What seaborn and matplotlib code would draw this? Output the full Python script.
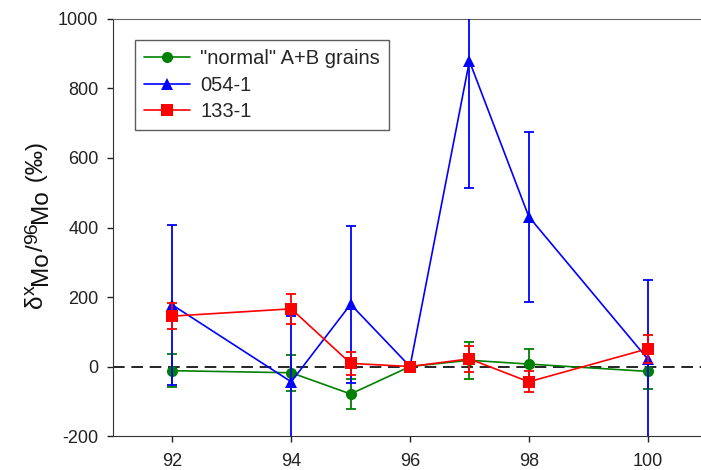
import matplotlib
matplotlib.use("Agg")
import matplotlib.pyplot as plt
import seaborn as sns
import pandas as pd

# mass numbers
mass = [92, 94, 95, 96, 97, 98, 100]

# "normal" A+B grains
normal_val = [-12, -18, -79, 0, 18, 7, -14]
normal_err = [47, 52, 43, 0, 53, 44, 51]

# grain 054-1
g054_val = [177, -44, 179, 0, 879, 431, 22]
g054_err = [229, 190, 225, 0, 365, 244, 227]

# grain 133-1
g133_val = [145, 166, 9, 0, 22, -44, 51]
g133_err = [38, 43, 34, 0, 38, 30, 40]

labels = ['"normal" A+B grains', "054-1", "133-1"]

sns.set_style("ticks")
plt.rcParams["font.family"] = ["Liberation Sans", "DejaVu Sans"]
plt.rcParams["axes.unicode_minus"] = False

df = pd.concat([
    pd.DataFrame({"mass": mass, "val": normal_val, "err": normal_err, "grain": labels[0]}),
    pd.DataFrame({"mass": mass, "val": g054_val, "err": g054_err, "grain": labels[1]}),
    pd.DataFrame({"mass": mass, "val": g133_val, "err": g133_err, "grain": labels[2]}),
])

colors = {labels[0]: "#008000", labels[1]: "#0000ff", labels[2]: "#ff0000"}
markers = {labels[0]: "o", labels[1]: "^", labels[2]: "s"}

W, H = 701, 470
fig = plt.figure(figsize=(W / 100, H / 100), dpi=100)
ax = fig.add_axes([0.1612, 0.0723, 0.8474, 0.8873])

ax.axhline(0, color="black", lw=1.2, dashes=(7, 4), zorder=1)

for i, g in enumerate(labels):
    sub = df[df["grain"] == g]
    ax.errorbar(sub["mass"], sub["val"], yerr=sub["err"], fmt="none",
                ecolor=colors[g], elinewidth=1.3, capsize=3.5, capthick=1.3,
                zorder=2 + 2 * i)
    sns.lineplot(data=sub, x="mass", y="val", color=colors[g], marker=markers[g],
                 markersize=8, markeredgewidth=0, lw=1.2, label=g, ax=ax,
                 zorder=3 + 2 * i)

ax.set_xlim(91, 101)
ax.set_ylim(-200, 1000)
ax.set_xticks([92, 94, 96, 98, 100])
ax.set_yticks(range(-200, 1001, 200))
ax.tick_params(labelsize=13, length=4.5, width=1, colors="#222222")
ax.tick_params(axis="x", pad=8)
ax.tick_params(axis="y", pad=6)
ax.set_xlabel("")
ax.set_ylabel("")

for s in ["left", "bottom"]:
    ax.spines[s].set_color("#333333")
ax.spines["top"].set_color("#666666")
ax.spines["right"].set_visible(False)

leg = ax.legend(loc="upper left", bbox_to_anchor=(0.037, 0.95), borderaxespad=0,
                fontsize=14.5, frameon=True, fancybox=False, handlelength=2.3,
                labelspacing=0.38, borderpad=0.45, handletextpad=0.5)
leg.get_frame().set_edgecolor("#333333")
leg.get_frame().set_linewidth(1)

# y label built from pieces: delta, raised x, lowered Mo, /, raised 96, lowered Mo, (permil)
pieces = [("δ", 17.5, 42), ("x", 14, 35), ("Mo", 17.5, 47), ("/", 17.5, 43),
          ("96", 14, 37), ("Mo", 17.5, 47), (" (‰)", 17.5, 43)]
renderer = fig.canvas.get_renderer()
texts = []
y = 0.0
for s, fs, xb in pieces:
    t = fig.text(xb / W, 0, s, fontsize=fs, rotation=90, rotation_mode="anchor",
                 ha="left", va="baseline", color="#111111")
    ext = t.get_window_extent(renderer)
    texts.append((t, y))
    y += ext.height
total = y
y0 = (H - 225) - total / 2
for t, off in texts:
    t.set_y((y0 + off) / H)

plt.savefig("out.png", dpi=100)
